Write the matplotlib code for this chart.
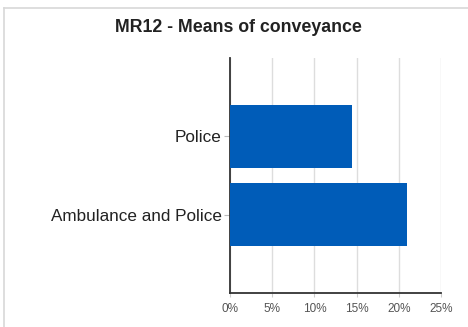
import matplotlib
matplotlib.use("Agg")
import matplotlib.pyplot as plt
from matplotlib.lines import Line2D

plt.rcParams['font.family'] = ['Liberation Sans', 'DejaVu Sans']

# conveyance shares (%)
categories = ["Ambulance and Police", "Police"]
shares = [21.0, 14.5]
xticks = [0, 5, 10, 15, 20, 25]
xticklabels = ["0%", "5%", "10%", "15%", "20%", "25%"]

fig = plt.figure(figsize=(4.68, 3.27), dpi=100)
ax = fig.add_axes([0.4915, 0.104, 0.451, 0.7185])

ax.barh(range(len(categories)), shares, height=0.8, color="#005cb8", zorder=3)

ax.set_xlim(0, 25)
ax.set_ylim(-1, 2)
ax.set_xticks(xticks)
ax.set_xticklabels(xticklabels, fontsize=8.5, color="#555555")
ax.set_yticks(range(len(categories)))
ax.set_yticklabels(categories, fontsize=12.3, color="#222222")
ax.tick_params(axis="x", length=3, color="#cccccc", pad=4)
ax.tick_params(axis="y", length=4, color="#bbbbbb", pad=2)
ax.grid(axis="x", color="#dddddd", lw=1, zorder=0)

for s in ["top", "right"]:
    ax.spines[s].set_visible(False)
for s in ["left", "bottom"]:
    ax.spines[s].set_color("#333333")
    ax.spines[s].set_linewidth(1.3)

fig.text(0.51, 0.916, "MR12 - Means of conveyance", ha="center", va="center",
         fontsize=12.8, fontweight="bold", color="#222222")

# light frame on the left and top
fig.add_artist(Line2D([0.009, 0.009], [0, 0.975], color="#d8d8d8", lw=1.2))
fig.add_artist(Line2D([0.009, 1.0], [0.975, 0.975], color="#d8d8d8", lw=1.2))

fig.savefig("out.png", dpi=100)
